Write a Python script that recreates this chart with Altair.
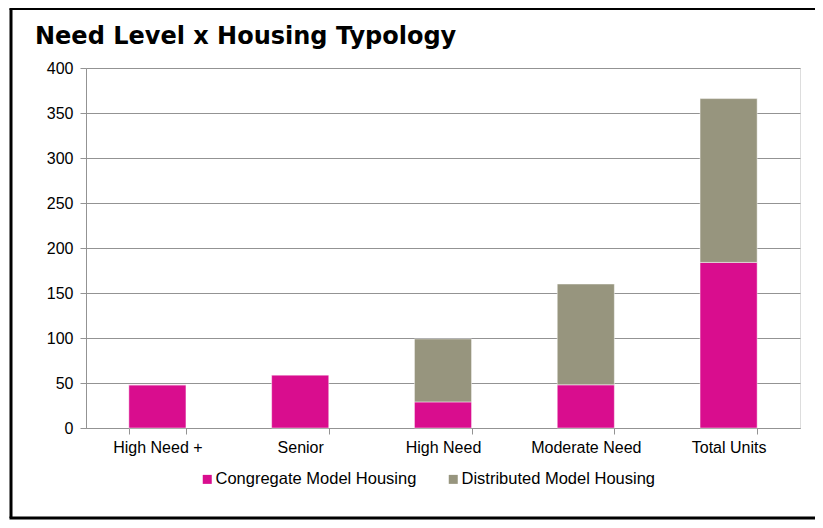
import altair as alt
import pandas as pd

title_text = "Need Level x Housing Typology"
categories = ["High Need +", "Senior", "High Need", "Moderate Need", "Total Units"]
congregate = [48, 59, 29, 48, 184]
distributed = [0, 0, 70, 112, 182]
series_names = ["Congregate Model Housing", "Distributed Model Housing"]
series_colors = ["#D90D8E", "#97957E"]
y_ticks = [0, 50, 100, 150, 200, 250, 300, 350, 400]

rows = []
for c, a, b in zip(categories, congregate, distributed):
    rows.append({"category": c, "series": series_names[0], "value": a, "ord": 0})
    rows.append({"category": c, "series": series_names[1], "value": b, "ord": 1})
df = pd.DataFrame(rows)

FONT = "Liberation Sans"
GRID = "#939393"

bars = alt.Chart(df).mark_bar(stroke="#ffffff", strokeWidth=0.8, strokeOpacity=0.6).encode(
    x=alt.X("category:N", sort=categories, title=None,
            scale=alt.Scale(paddingInner=0.6, paddingOuter=0.3),
            axis=alt.Axis(labelAngle=0, labelFontSize=16, labelFont=FONT, labelColor="#000000",
                          labelPadding=5, domainColor=GRID, tickColor=GRID,
                          tickSize=6, tickBand="extent", grid=False)),
    y=alt.Y("value:Q", stack="zero", title=None,
            scale=alt.Scale(domain=[0, 400], nice=False),
            axis=alt.Axis(values=y_ticks, labelFontSize=16, labelFont=FONT, labelColor="#000000",
                          labelPadding=7, domainColor=GRID, tickColor=GRID, tickSize=6,
                          gridColor=GRID, gridWidth=1)),
    color=alt.Color("series:N", sort=series_names, title=None,
                    scale=alt.Scale(domain=series_names, range=series_colors),
                    legend=alt.Legend(orient="none", legendX=113, legendY=403, direction="horizontal",
                                      symbolType="square", symbolSize=81, symbolStrokeWidth=0,
                                      labelFontSize=16.5, labelFont=FONT, labelColor="#000000",
                                      columnPadding=28, labelOffset=0, labelLimit=400)),
    order=alt.Order("ord:Q"),
)

frame_df = pd.DataFrame({"k": [0]})
left_edge = alt.Chart(frame_df).mark_rule(color="#000000", strokeWidth=3, clip=False).encode(
    x=alt.value(-75), y=alt.value(-59.5), y2=alt.value(450))
top_edge = alt.Chart(frame_df).mark_rule(color="#000000", strokeWidth=3, clip=False).encode(
    x=alt.value(-76.5), x2=alt.value(760), y=alt.value(-59.5))
bottom_edge = alt.Chart(frame_df).mark_rule(color="#000000", strokeWidth=3, clip=False).encode(
    x=alt.value(-76.5), x2=alt.value(760), y=alt.value(450))

title = alt.Chart(pd.DataFrame({"t": [title_text]})).mark_text(
    align="left", baseline="alphabetic", font="DejaVu Sans", fontSize=24, fontWeight="bold",
    color="#000000", clip=False
).encode(text="t:N", x=alt.value(-51), y=alt.value(-24))

chart = alt.layer(left_edge, top_edge, bottom_edge, bars, title).properties(
    width=714, height=360,
    autosize=alt.AutoSizeParams(type="none"),
    padding={"left": 78, "top": 60, "right": 15, "bottom": 92},
).configure_view(stroke=None).configure(background="#ffffff")

chart.save("out.html", embed_options={"renderer": "svg", "actions": False})
